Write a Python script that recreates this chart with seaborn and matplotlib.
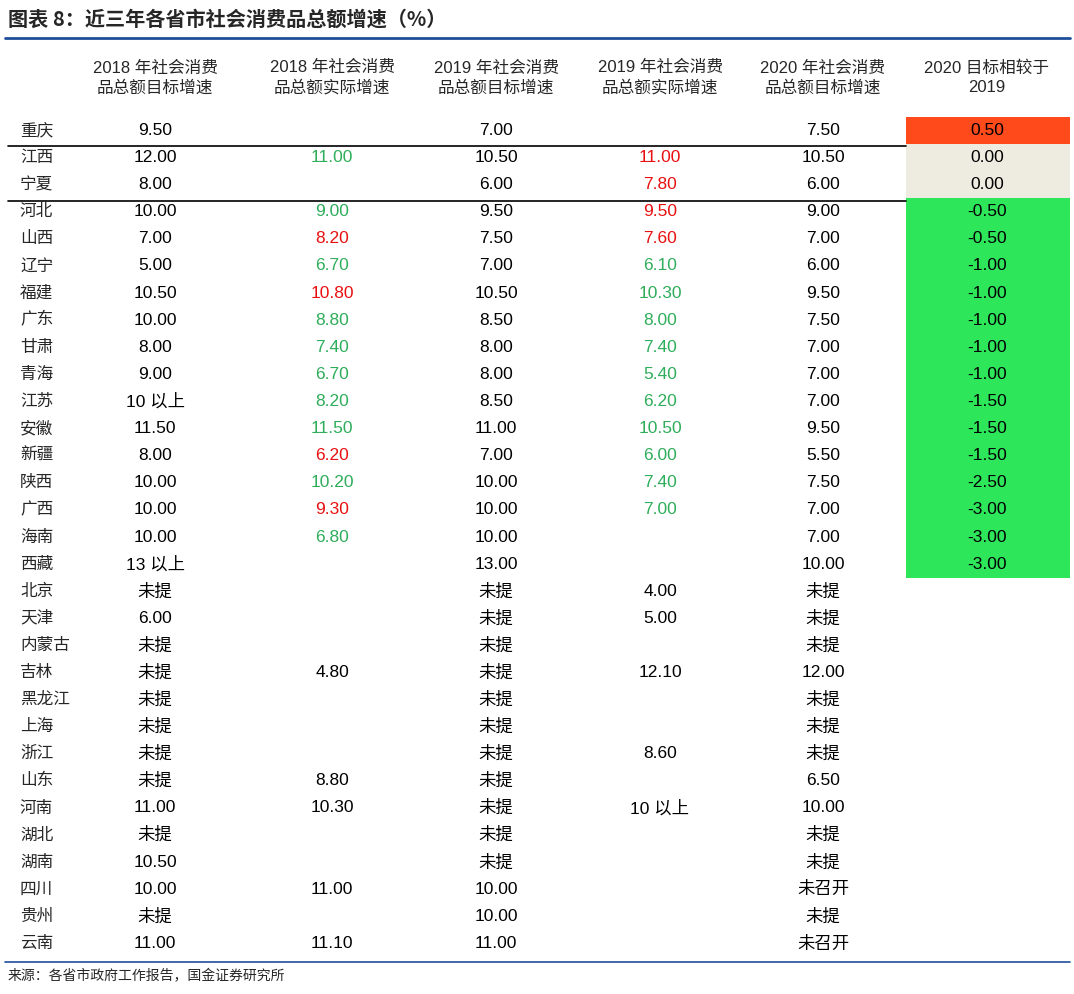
import matplotlib
matplotlib.use("Agg")
import matplotlib.pyplot as plt
import seaborn as sns
import numpy as np
from matplotlib.colors import ListedColormap

sns.set_theme(style="white")
plt.rcParams['font.family'] = ['Liberation Sans', 'Noto Sans CJK SC', 'DejaVu Sans']

provinces = ["重庆", "江西", "宁夏", "河北", "山西", "辽宁", "福建", "广东", "甘肃", "青海",
             "江苏", "安徽", "新疆", "陕西", "广西", "海南", "西藏", "北京", "天津", "内蒙古",
             "吉林", "黑龙江", "上海", "浙江", "山东", "河南", "湖北", "湖南", "四川", "贵州", "云南"]
target_2018 = ["9.50", "12.00", "8.00", "10.00", "7.00", "5.00", "10.50", "10.00", "8.00", "9.00",
               "10 以上", "11.50", "8.00", "10.00", "10.00", "10.00", "13 以上", "未提", "6.00", "未提",
               "未提", "未提", "未提", "未提", "未提", "11.00", "未提", "10.50", "10.00", "未提", "11.00"]
actual_2018 = ["", "11.00", "", "9.00", "8.20", "6.70", "10.80", "8.80", "7.40", "6.70",
               "8.20", "11.50", "6.20", "10.20", "9.30", "6.80", "", "", "", "",
               "4.80", "", "", "", "8.80", "10.30", "", "", "11.00", "", "11.10"]
# r = red, g = green, k = black
actual_2018_col = "kgkgrgrgggggrgrggkkkkkkkkkgkkrkr"
target_2019 = ["7.00", "10.50", "6.00", "9.50", "7.50", "7.00", "10.50", "8.50", "8.00", "8.00",
               "8.50", "11.00", "7.00", "10.00", "10.00", "10.00", "13.00", "未提", "未提", "未提",
               "未提", "未提", "未提", "未提", "未提", "未提", "未提", "未提", "10.00", "10.00", "11.00"]
actual_2019 = ["", "11.00", "7.80", "9.50", "7.60", "6.10", "10.30", "8.00", "7.40", "5.40",
               "6.20", "10.50", "6.00", "7.40", "7.00", "", "", "4.00", "5.00", "",
               "12.10", "", "", "8.60", "", "10 以上", "", "", "", "", ""]
actual_2019_col = "krrrrggggggggggkkkkkkkkkkkkkkkk"
target_2020 = ["7.50", "10.50", "6.00", "9.00", "7.00", "6.00", "9.50", "7.50", "7.00", "7.00",
               "7.00", "9.50", "5.50", "7.50", "7.00", "7.00", "10.00", "未提", "未提", "未提",
               "12.00", "未提", "未提", "未提", "6.50", "10.00", "未提", "未提", "未召开", "未提", "未召开"]
diff_2020 = [0.50, 0.00, 0.00, -0.50, -0.50, -1.00, -1.00, -1.00, -1.00, -1.00,
             -1.50, -1.50, -1.50, -2.50, -3.00, -3.00, -3.00]
headers = ["2018 年社会消费\n品总额目标增速", "2018 年社会消费\n品总额实际增速", "2019 年社会消费\n品总额目标增速",
           "2019 年社会消费\n品总额实际增速", "2020 年社会消费\n品总额目标增速", "2020 目标相较于\n2019"]

palette = {"r": "#E81010", "g": "#2EAD5A", "k": "black"}
W, H = 1074, 994
fig = plt.figure(figsize=(W / 100, H / 100), dpi=100)

y0, dy = 130.5, 27.1
col_x = [155, 332, 496, 660, 823, 987]

# colored comparison column via seaborn heatmap (drawn below the text layer)
cats = np.array([[0 if d > 0 else (1 if d == 0 else 2)] for d in diff_2020])
top = y0 - dy / 2
bot = y0 + dy * (len(diff_2020) - 0.5)
hax = fig.add_axes([906 / W, 1 - bot / H, (1070 - 906) / W, (bot - top) / H])
sns.heatmap(cats, ax=hax, cmap=ListedColormap(["#FF4A1C", "#EEECE1", "#2EE65A"]),
            vmin=-0.5, vmax=2.5, cbar=False, xticklabels=False, yticklabels=False)
hax.axis("off")

ax = fig.add_axes([0, 0, 1, 1])
ax.set_xlim(0, W)
ax.set_ylim(H, 0)
ax.axis("off")
ax.patch.set_alpha(0)

ax.text(8, 19, "图表 8：近三年各省市社会消费品总额增速（%）", fontsize=14.5, fontweight="bold",
        va="center", ha="left", family=['Noto Sans CJK SC'])
ax.plot([5, 1070], [38, 38], color="#1F4E9A", lw=2)

for x, h in zip(col_x, headers):
    ax.text(x, 78, h, fontsize=12, ha="center", va="center", linespacing=1.35,
            family=['Liberation Sans', 'Noto Sans CJK SC'])

for i, p in enumerate(provinces):
    y = y0 + i * dy
    ax.text(20, y, p, fontsize=12, ha="left", va="center", family=['Noto Sans CJK SC'])
    row = [(target_2018[i], "k"), (actual_2018[i], actual_2018_col[i]),
           (target_2019[i], "k"), (actual_2019[i], actual_2019_col[i]),
           (target_2020[i], "k")]
    if i < len(diff_2020):
        row.append((f"{diff_2020[i]:.2f}", "k"))
    for x, (s, c) in zip(col_x, row):
        if s:
            ax.text(x, y, s, fontsize=12.5, ha="center", va="center", color=palette[c],
                    family=['Liberation Sans', 'Noto Sans CJK SC'])

ax.plot([8, 906], [146, 146], color="black", lw=1.2)
ax.plot([8, 906], [201, 201], color="black", lw=1.2)
ax.plot([5, 1070], [962, 962], color="#1F4E9A", lw=1.2)
ax.text(8, 976, "来源：各省市政府工作报告，国金证券研究所", fontsize=10, ha="left", va="center",
        family=['Noto Sans CJK SC'])

fig.savefig("out.png", dpi=100)
